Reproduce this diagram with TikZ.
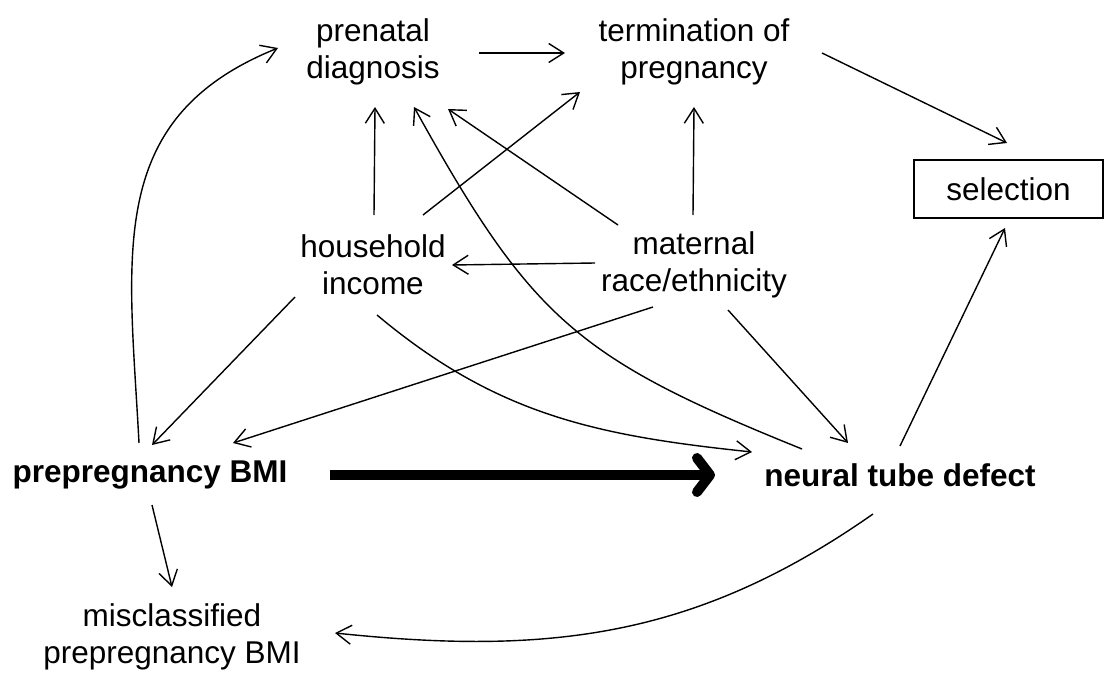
\documentclass[tikz,border=0pt]{standalone}
\usepackage{fontspec}
\setmainfont{Liberation Sans}
\usetikzlibrary{arrows.meta}
\begin{document}
\begin{tikzpicture}[x=1pt,y=-1pt,
  lbl/.style={inner sep=0pt, align=center, font=\fontsize{31.5}{37}\selectfont},
  blbl/.style={inner sep=0pt, align=center, font=\fontsize{31.5}{37}\selectfont\bfseries},
  edge/.style={draw, line width=1.4pt, -{Straight Barb[length=15pt,width=19pt]}},
  bigedge/.style={draw, line width=10pt, -{Straight Barb[length=13pt,width=34pt,round]}}]
\useasboundingbox (0,0) rectangle (1112,688);
\node[lbl] (pd) at (373,52) {prenatal\\diagnosis};
\node[lbl] (tp) at (694,52) {termination of\\pregnancy};
\node[lbl, draw, line width=1.4pt, minimum width=189pt, minimum height=58pt] (sel) at (1008.5,189) {selection};
\node[lbl] (hh) at (373,265) {household\\income};
\node[lbl] (mr) at (694,265) {maternal\\race/ethnicity};
\node[blbl] (bmi) at (150,475) {prepregnancy BMI};
\node[blbl] (ntd) at (900,475) {neural tube defect};
\node[lbl] (mis) at (172,637) {misclassified\\prepregnancy BMI};

\draw[edge] ([shift={(-11,-32)}]bmi.center) to[out=93,in=202,looseness=1.15] ([shift={(-95,-4)}]pd.center);
\draw[edge] ([shift={(106,1)}]pd.center) -- ([shift={(-129,1)}]tp.center);
\draw[edge] ([shift={(128,1)}]tp.center) -- ([shift={(-1.5,-46)}]sel.center);
\draw[edge] ([shift={(1,-50)}]hh.center) -- ([shift={(2,55)}]pd.center);
\draw[edge] ([shift={(50,-50)}]hh.center) -- ([shift={(-114,40)}]tp.center);
\draw[edge] ([shift={(-76,-40)}]mr.center) -- ([shift={(75,57)}]pd.center);
\draw[edge] ([shift={(-1,-50)}]mr.center) -- ([shift={(0,55)}]tp.center);
\draw[edge] ([shift={(-98,-26)}]ntd.center) to[out=158,in=-61,looseness=1.2] ([shift={(41,55)}]pd.center);
\draw[edge] ([shift={(-99,-2)}]mr.center) -- ([shift={(79,0)}]hh.center);
\draw[edge] ([shift={(-78,32)}]hh.center) -- ([shift={(2,-30)}]bmi.center);
\draw[edge] ([shift={(-41,42)}]mr.center) -- ([shift={(83,-32)}]bmi.center);
\draw[edge] ([shift={(4,50)}]hh.center) to[out=-40,in=174] ([shift={(-148,-23)}]ntd.center);
\draw[edge] ([shift={(34,45)}]mr.center) -- ([shift={(-52,-32)}]ntd.center);
\draw[edge] ([shift={(0,-29)}]ntd.center) -- ([shift={(-3.5,39)}]sel.center);
\draw[edge] ([shift={(2,30)}]bmi.center) -- ([shift={(0,-50)}]mis.center);
\draw[edge] ([shift={(-27,39)}]ntd.center) to[out=215,in=-6] ([shift={(163,-4)}]mis.center);
\draw[bigedge] ([shift={(180,0)}]bmi.center) -- ([shift={(-185,0)}]ntd.center);
\end{tikzpicture}
\end{document}
